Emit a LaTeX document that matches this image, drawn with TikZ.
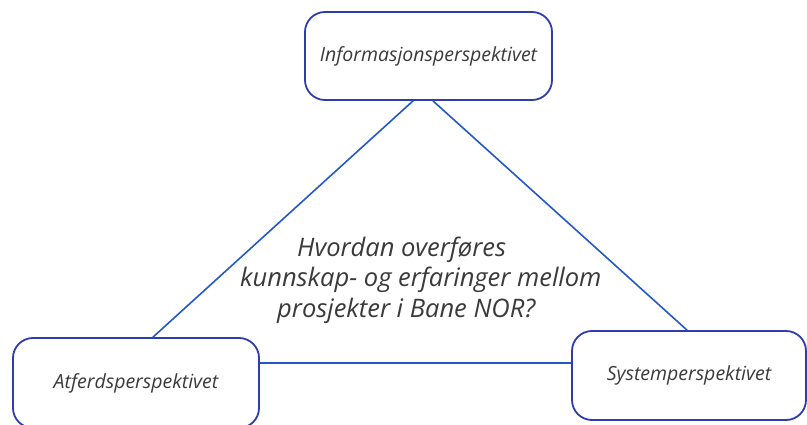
\documentclass[tikz,border=0pt]{standalone}
\usepackage{fontspec}
\setmainfont{Open Sans}
\usepackage{tikz}
\definecolor{boxblue}{HTML}{2E3DAE}
\definecolor{lineblue}{HTML}{2358C8}
\definecolor{textgray}{HTML}{3A3A3A}

\begin{document}
\begin{tikzpicture}[x=1pt,y=-1pt]
    \tikzstyle{block} = [draw=boxblue, line width=1.8pt, rectangle, rounded corners=20pt, text=textgray, font={\itshape\fontsize{19.5}{22}\selectfont}];
    \tikzstyle{line} = [draw=lineblue, line width=1.6pt];
    \useasboundingbox (0,0) rectangle (807,425);
    \node[block, minimum width=247pt, minimum height=88pt] (info) at (428.5,56) {Informasjonsperspektivet};
    \node[block, minimum width=246pt, minimum height=90pt] (atferd) at (136,383) {Atferdsperspektivet};
    \node[block, minimum width=234pt, minimum height=89pt] (system) at (689,375.5) {Systemperspektivet};
    \node[text=textgray, align=left, anchor=west, inner sep=0pt, font={\itshape\fontsize{25.5}{30.5}\selectfont}] (question) at (240,280) {\hspace*{57pt}Hvordan overføres\\kunnskap- og erfaringer mellom\\\hspace*{37pt}prosjekter i Bane NOR?};
    \tikzstyle{every path}=[line]
    \path ([xshift=-15.5pt]info.south) -- ([xshift=17pt]atferd.north);
    \path ([xshift=4.5pt]info.south) -- ([xshift=-2pt]system.north);
    \path ([yshift=20pt]atferd.east) -- ([yshift=12.5pt]system.west);
\end{tikzpicture}
\end{document}
